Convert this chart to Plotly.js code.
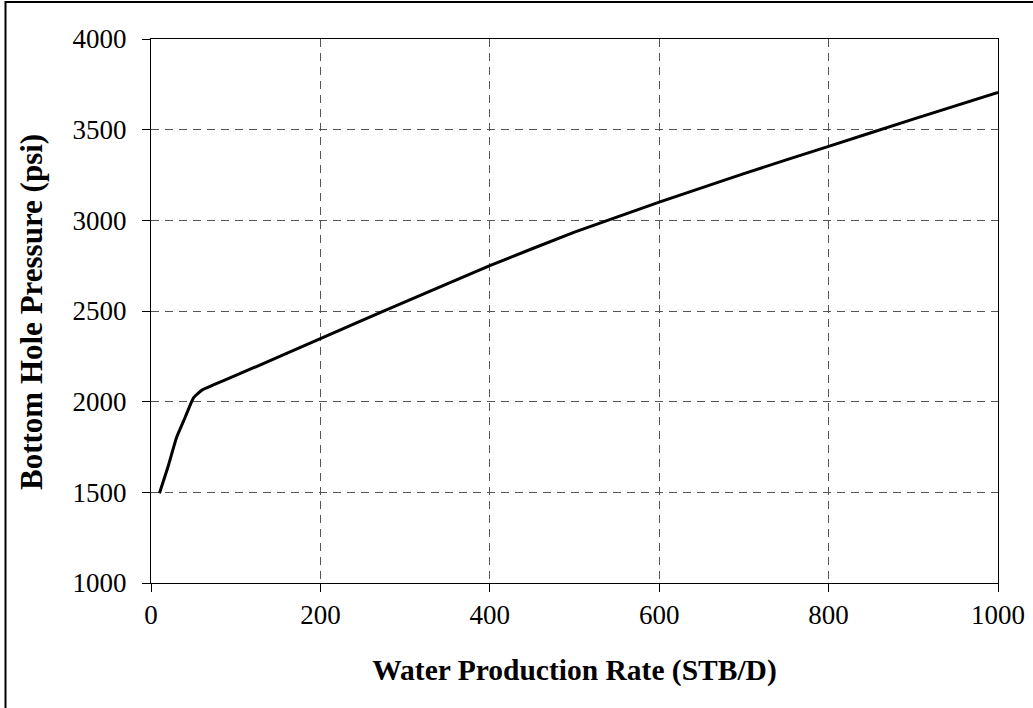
<!DOCTYPE html>
<html>
<head>
<meta charset="utf-8">
<script src="https://cdn.plot.ly/plotly-3.0.1.min.js"></script>
<style>
  html, body { margin: 0; padding: 0; background: #fff; }
  #chart { width: 1033px; height: 708px; }
</style>
</head>
<body>
<div id="chart"></div>
<script>
const waterRate = [10, 20, 30, 40, 50, 60, 75, 100, 150, 200, 250, 300, 400, 500, 600, 700, 800, 900, 1000];
const bhp = [1495, 1640, 1800, 1910, 2020, 2063, 2095, 2145, 2245, 2348, 2450, 2550, 2750, 2935, 3100, 3258, 3408, 3558, 3705];
const xTicks = [0, 200, 400, 600, 800, 1000];
const yTicks = [1000, 1500, 2000, 2500, 3000, 3500, 4000];
const xTitle = 'Water Production Rate (STB/D)';
const yTitle = 'Bottom Hole Pressure (psi)';

const font = "'Liberation Serif', 'Times New Roman', serif";

const trace = {
  x: waterRate, y: bhp, type: 'scatter', mode: 'lines',
  line: { color: '#000', width: 3, shape: 'spline', smoothing: 0.4 },
  hoverinfo: 'skip'
};

const layout = {
  width: 1033, height: 708,
  margin: { l: 151, r: 35, t: 39, b: 125 },
  paper_bgcolor: '#fff', plot_bgcolor: '#fff',
  showlegend: false,
  font: { family: font, color: '#000', size: 27 },
  xaxis: {
    range: [0, 1000], tickvals: xTicks, ticktext: xTicks.map(String),
    showgrid: true, gridcolor: '#555', gridwidth: 1, griddash: '8px,6px',
    showline: true, mirror: true, linecolor: '#000', linewidth: 1,
    ticks: 'outside', ticklen: 8, tickcolor: '#000', tickwidth: 1,
    tickfont: { family: font, size: 27, color: '#000' },
    zeroline: false, fixedrange: true,
    title: { text: '<b>' + xTitle + '</b>', font: { family: font, size: 29.5, color: '#000' }, standoff: 29 }
  },
  yaxis: {
    range: [1000, 4000], tickvals: yTicks, ticktext: yTicks.map(String),
    showgrid: true, gridcolor: '#555', gridwidth: 1, griddash: '8px,6px',
    showline: true, mirror: true, linecolor: '#000', linewidth: 1,
    ticks: 'outside', ticklen: 8, tickcolor: '#000', tickwidth: 1,
    ticklabelstandoff: 10,
    tickfont: { family: font, size: 27, color: '#000' },
    zeroline: false, fixedrange: true,
    title: { text: '' }
  },
  annotations: [{
    text: '<b>' + yTitle + '</b>', xref: 'paper', yref: 'paper',
    x: (31 - 151) / 847, y: (583 - 312) / 544,
    xanchor: 'center', yanchor: 'middle', textangle: -90, showarrow: false,
    font: { family: font, size: 31, color: '#000' }
  }],
  shapes: [{
    type: 'rect', xref: 'paper', yref: 'paper',
    x0: (5.5 - 151) / 847, x1: (1045 - 151) / 847,
    y0: (583 - 720) / 544, y1: (583 - 2) / 544,
    line: { color: '#000', width: 2 }, fillcolor: 'rgba(0,0,0,0)', layer: 'above'
  }]
};

Plotly.newPlot('chart', [trace], layout, { staticPlot: true, displayModeBar: false });
</script>
</body>
</html>
